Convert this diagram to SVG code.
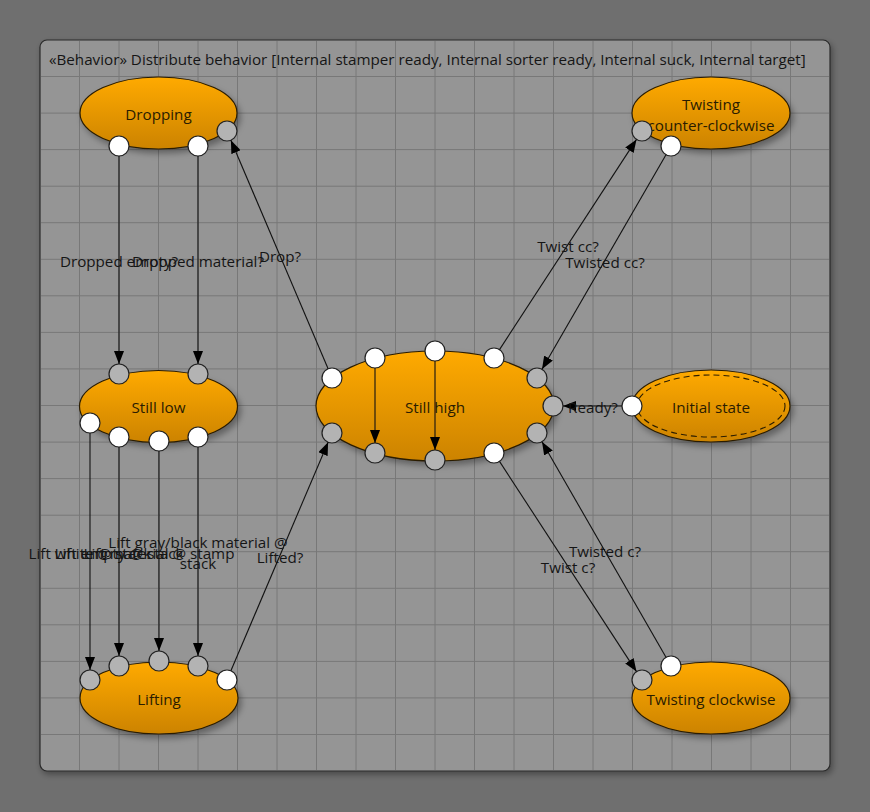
<svg xmlns="http://www.w3.org/2000/svg" width="870" height="812" viewBox="0 0 870 812">
<defs>
<linearGradient id="og" x1="0" y1="0" x2="0" y2="1">
<stop offset="0" stop-color="#ffaa00"/>
<stop offset="1" stop-color="#cc8300"/>
</linearGradient>
<filter id="sh" x="-20%" y="-20%" width="150%" height="160%">
<feDropShadow dx="3" dy="4" stdDeviation="3" flood-color="#000" flood-opacity="0.35"/>
</filter>
<filter id="psh" x="-5%" y="-5%" width="110%" height="110%">
<feDropShadow dx="2" dy="3" stdDeviation="3" flood-color="#000" flood-opacity="0.35"/>
</filter>
<marker id="ah" markerUnits="userSpaceOnUse" markerWidth="14" markerHeight="10" refX="13" refY="5" orient="auto">
<path d="M0,0 L13,5 L0,10 z" fill="#000"/>
</marker>
</defs>
<style>
text{font-family:"Open Sans","Noto Sans","DejaVu Sans",sans-serif;font-size:15.2px;fill:#151515}
.node ellipse.b{fill:url(#og);stroke:#2b1d00;stroke-width:1.2;filter:url(#sh)}
.node text{text-anchor:middle;fill:#2a1c00}
.pw{fill:#ffffff;stroke:#222;stroke-width:1.2}
.pg{fill:#b3b3b3;stroke:#222;stroke-width:1.2}
.grid line{stroke:#787878;stroke-width:1}
.conn line{stroke:#111;stroke-width:1.1;marker-end:url(#ah)}
.conn text{text-anchor:middle}
</style>
<rect width="870" height="812" fill="#6f6f6f"/>
<rect x="40" y="40" width="790" height="731" rx="7" fill="#959595" stroke="#2a2a2a" stroke-width="1.2" filter="url(#psh)"/>
<g class="grid">
<line x1="79.5" y1="41" x2="79.5" y2="770"/><line x1="119" y1="41" x2="119" y2="770"/><line x1="158.5" y1="41" x2="158.5" y2="770"/><line x1="198" y1="41" x2="198" y2="770"/><line x1="237.5" y1="41" x2="237.5" y2="770"/><line x1="277" y1="41" x2="277" y2="770"/><line x1="316.5" y1="41" x2="316.5" y2="770"/><line x1="356" y1="41" x2="356" y2="770"/><line x1="395.5" y1="41" x2="395.5" y2="770"/><line x1="435" y1="41" x2="435" y2="770"/><line x1="474.5" y1="41" x2="474.5" y2="770"/><line x1="514" y1="41" x2="514" y2="770"/><line x1="553.5" y1="41" x2="553.5" y2="770"/><line x1="593" y1="41" x2="593" y2="770"/><line x1="632.5" y1="41" x2="632.5" y2="770"/><line x1="672" y1="41" x2="672" y2="770"/><line x1="711.5" y1="41" x2="711.5" y2="770"/><line x1="751" y1="41" x2="751" y2="770"/><line x1="790.5" y1="41" x2="790.5" y2="770"/>
<line x1="41" y1="76.5" x2="829" y2="76.5"/><line x1="41" y1="113.1" x2="829" y2="113.1"/><line x1="41" y1="149.6" x2="829" y2="149.6"/><line x1="41" y1="186.2" x2="829" y2="186.2"/><line x1="41" y1="222.7" x2="829" y2="222.7"/><line x1="41" y1="259.3" x2="829" y2="259.3"/><line x1="41" y1="295.8" x2="829" y2="295.8"/><line x1="41" y1="332.4" x2="829" y2="332.4"/><line x1="41" y1="368.9" x2="829" y2="368.9"/><line x1="41" y1="405.5" x2="829" y2="405.5"/><line x1="41" y1="442.1" x2="829" y2="442.1"/><line x1="41" y1="478.6" x2="829" y2="478.6"/><line x1="41" y1="515.2" x2="829" y2="515.2"/><line x1="41" y1="551.7" x2="829" y2="551.7"/><line x1="41" y1="588.3" x2="829" y2="588.3"/><line x1="41" y1="624.8" x2="829" y2="624.8"/><line x1="41" y1="661.4" x2="829" y2="661.4"/><line x1="41" y1="697.9" x2="829" y2="697.9"/><line x1="41" y1="734.5" x2="829" y2="734.5"/>
</g>
<text x="49" y="65">«Behavior» Distribute behavior [Internal stamper ready, Internal sorter ready, Internal suck, Internal target]</text>

<g id="node-dropping" class="node">
<ellipse class="b" cx="158.5" cy="113" rx="78.5" ry="36"/>
<text x="158.5" y="120">Dropping</text>
<circle class="pw" cx="119" cy="146" r="10"/><circle class="pw" cx="198" cy="146" r="10"/><circle class="pg" cx="227" cy="131" r="10"/>
</g>
<g id="node-twisting-cc" class="node">
<ellipse class="b" cx="711" cy="113" rx="79" ry="36"/>
<text x="711" y="110">Twisting</text><text x="711" y="131">counter-clockwise</text>
<circle class="pg" cx="642" cy="131" r="10"/><circle class="pw" cx="671" cy="146" r="10"/>
</g>
<g id="node-still-low" class="node">
<ellipse class="b" cx="158.5" cy="406.5" rx="79" ry="36"/>
<text x="158.5" y="413">Still low</text>
<circle class="pg" cx="119" cy="374" r="10"/><circle class="pg" cx="198" cy="374" r="10"/>
<circle class="pw" cx="90" cy="423" r="10"/><circle class="pw" cx="119" cy="437" r="10"/><circle class="pw" cx="159" cy="441" r="10"/><circle class="pw" cx="198" cy="437" r="10"/>
</g>
<g id="node-still-high" class="node">
<ellipse class="b" cx="435" cy="406" rx="119" ry="55"/>
<text x="435" y="413">Still high</text>
<circle class="pw" cx="332" cy="378" r="10"/><circle class="pw" cx="375" cy="358" r="10"/><circle class="pw" cx="435" cy="351" r="10"/><circle class="pw" cx="494" cy="358" r="10"/>
<circle class="pg" cx="537" cy="378" r="10"/><circle class="pg" cx="553" cy="406" r="10"/><circle class="pg" cx="537" cy="433" r="10"/>
<circle class="pw" cx="494" cy="453" r="10"/><circle class="pg" cx="435" cy="460" r="10"/><circle class="pg" cx="375" cy="453" r="10"/><circle class="pg" cx="332" cy="433" r="10"/>
</g>
<g id="node-initial" class="node">
<ellipse class="b" cx="711" cy="406" rx="79" ry="36"/>
<ellipse cx="711" cy="406" rx="74" ry="31" fill="none" stroke="#2b1d00" stroke-width="1.1" stroke-dasharray="6,4"/>
<text x="711" y="413">Initial state</text>
<circle class="pw" cx="632" cy="406" r="10"/>
</g>
<g id="node-lifting" class="node">
<ellipse class="b" cx="159" cy="698" rx="79" ry="36"/>
<text x="159" y="705">Lifting</text>
<circle class="pg" cx="90" cy="680" r="10"/><circle class="pg" cx="119" cy="666" r="10"/><circle class="pg" cx="159" cy="661" r="10"/><circle class="pg" cx="198" cy="666" r="10"/><circle class="pw" cx="227" cy="680" r="10"/>
</g>
<g id="node-twisting-c" class="node">
<ellipse class="b" cx="711" cy="698" rx="79" ry="36"/>
<text x="711" y="705">Twisting clockwise</text>
<circle class="pg" cx="642" cy="680" r="10"/><circle class="pw" cx="671" cy="666" r="10"/>
</g>

<g id="connectors" class="conn">
<line x1="119" y1="156" x2="119" y2="364"/>
<line x1="198" y1="156" x2="198" y2="364"/>
<line x1="328.1" y1="368.8" x2="230.9" y2="140.2"/>
<line x1="499.5" y1="349.6" x2="636.5" y2="139.4"/>
<line x1="666" y1="154.7" x2="542" y2="369.3"/>
<line x1="622" y1="406" x2="563" y2="406"/>
<line x1="375" y1="368" x2="375" y2="443"/>
<line x1="435" y1="361" x2="435" y2="450"/>
<line x1="499.5" y1="461.4" x2="636.5" y2="671.6"/>
<line x1="666" y1="657.3" x2="542" y2="441.7"/>
<line x1="230.9" y1="670.8" x2="328.1" y2="442.2"/>
<line x1="90" y1="433" x2="90" y2="670"/>
<line x1="119" y1="447" x2="119" y2="656"/>
<line x1="159" y1="451" x2="159" y2="651"/>
<line x1="198" y1="447" x2="198" y2="656"/>
<text x="119" y="267">Dropped empty?</text>
<text x="198" y="267">Dropped material?</text>
<text x="280" y="262">Drop?</text>
<text x="568" y="252">Twist cc?</text>
<text x="605" y="268">Twisted cc?</text>
<text x="593" y="413">Ready?</text>
<text x="568" y="573">Twist c?</text>
<text x="605" y="557">Twisted c?</text>
<text x="280" y="563">Lifted?</text>
<text x="90" y="559">Lift white @ stack</text>
<text x="119" y="559">Lift empty @ stack</text>
<text x="159" y="559">Lift material @ stamp</text>
<text x="198" y="548">Lift gray/black material @</text>
<text x="198" y="569">stack</text>
</g>
</svg>
